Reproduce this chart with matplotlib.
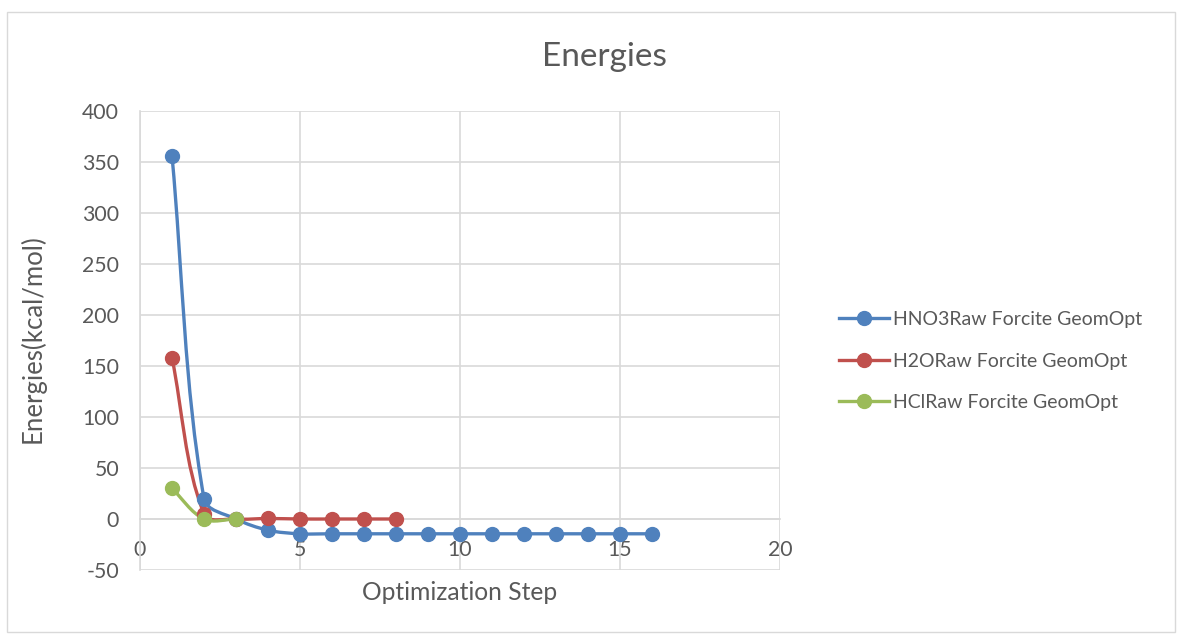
import numpy as np
import matplotlib
matplotlib.use("Agg")
import matplotlib.pyplot as plt
from matplotlib.path import Path
from matplotlib.patches import PathPatch, Rectangle
from matplotlib.lines import Line2D

plt.rcParams['font.family'] = ['Lato', 'DejaVu Sans']
plt.rcParams['axes.unicode_minus'] = False

# data
hno3_x = [1, 2, 3, 4, 5, 6, 7, 8, 9, 10, 11, 12, 13, 14, 15, 16]
hno3_y = [356, 20, 0, -11, -14.5, -14.5, -14.5, -14.5, -14.5, -14.5, -14.5, -14.5, -14.5, -14.5, -14.5, -14.5]
h2o_x = [1, 2, 3, 4, 5, 6, 7, 8]
h2o_y = [158, 5, 0, 0.5, 0, 0, 0, 0]
hcl_x = [1, 2, 3]
hcl_y = [30, 0, 0]

series = [
    ("HNO3Raw Forcite GeomOpt", hno3_x, hno3_y, "#4F81BD"),
    ("H2ORaw Forcite GeomOpt", h2o_x, h2o_y, "#C0504D"),
    ("HClRaw Forcite GeomOpt", hcl_x, hcl_y, "#9BBB59"),
]
grey_text = "#595959"


def smooth_path(ax, x, y):
    # Excel-like smoothed line, built in screen space: tangent parallel to the
    # neighbour chord, handle length a third of the segment length
    tr = ax.transData
    p = tr.transform(np.column_stack([x, y]).astype(float))
    n = len(p)
    verts = [p[0]]
    codes = [Path.MOVETO]
    for i in range(n - 1):
        a, b = p[i], p[i + 1]
        seg = np.hypot(*(b - a))
        t1 = b - (p[i - 1] if i > 0 else a)
        t2 = (p[i + 2] if i + 2 < n else b) - a
        t1 = t1 / np.hypot(*t1)
        t2 = t2 / np.hypot(*t2)
        verts += [a + t1 * seg / 3, b - t2 * seg / 3, b]
        codes += [Path.CURVE4] * 3
    verts = tr.inverted().transform(np.array(verts))
    return Path(verts, codes)


fig = plt.figure(figsize=(11.82, 6.35), dpi=100)
fig.patches.append(Rectangle((7 / 1182, 3 / 635), 1168 / 1182, 620 / 635,
                             transform=fig.transFigure, fill=False,
                             edgecolor="#d9d9d9", linewidth=1))
ax = fig.add_axes([140 / 1182, 65 / 635, 640 / 1182, 459 / 635])
ax.set_xlim(0, 20)
ax.set_ylim(-50, 400)

for name, xs, ys, col in series:
    ax.add_patch(PathPatch(smooth_path(ax, xs, ys), facecolor="none", edgecolor=col,
                           linewidth=2.4, zorder=3, capstyle="round"))
    ax.plot(xs, ys, linestyle="none", marker="o", markersize=10, color=col, zorder=4)

ax.set_xticks(range(0, 21, 5))
ax.set_yticks(range(-50, 401, 50))
ax.grid(True, color="#d9d9d9", linewidth=1.2)
ax.set_axisbelow(True)
for s in ["top", "right"]:
    ax.spines[s].set_visible(False)
ax.spines["bottom"].set_position(("data", 0))
for s in ["bottom", "left"]:
    ax.spines[s].set_color("#d9d9d9")
    ax.spines[s].set_linewidth(1.2)
ax.tick_params(length=0, labelsize=15.3, labelcolor=grey_text, pad=15)

fig.text(604 / 1182, 1 - 57 / 635, "Energies", ha="center", va="center",
         fontsize=24, color=grey_text)
fig.text(33 / 1182, 1 - 339 / 635, "Energies(kcal/mol)", ha="center", va="center",
         rotation=90, fontsize=18.5, color=grey_text)
fig.text(460 / 1182, 1 - 593 / 635, "Optimization Step", ha="center", va="center",
         fontsize=17.7, color=grey_text)

handles = [Line2D([], [], color=c, linewidth=2.4, marker="o", markersize=10)
           for _, _, _, c in series]
fig.legend(handles, [s[0] for s in series], loc="center left",
           bbox_to_anchor=(829 / 1182, 1 - 361 / 635), frameon=False,
           fontsize=14, labelcolor=grey_text, handlelength=2.6,
           handletextpad=0.2, labelspacing=1.25, borderpad=0)

fig.savefig("out.png", dpi=100)
